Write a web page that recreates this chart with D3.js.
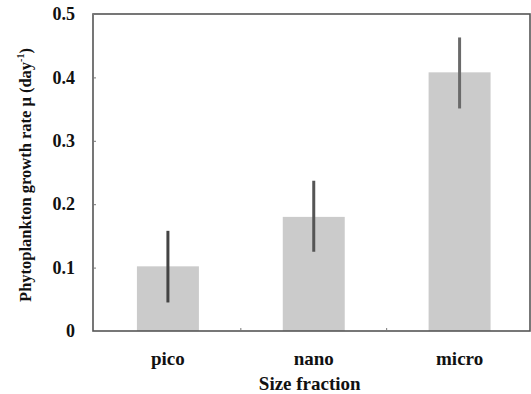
<!DOCTYPE html>
<html>
<head>
<meta charset="utf-8">
<script src="https://cdn.jsdelivr.net/npm/d3@7"></script>
<style>
  body { margin: 0; background: #fff; }
  text { font-family: "Liberation Serif", "Times New Roman", serif; font-weight: bold; fill: #111; }
</style>
</head>
<body>
<svg class="chart" width="531" height="394"></svg>
<script>
const categories = ["pico", "nano", "micro"];
const rates = [0.102, 0.180, 0.408];
const errLow = [0.045, 0.125, 0.351];
const errHigh = [0.158, 0.237, 0.463];
const yTicks = [0, 0.1, 0.2, 0.3, 0.4, 0.5];

const svg = d3.select("svg.chart");

const plotLeft = 93, plotRight = 530, plotTop = 14, plotBottom = 331;

const x = d3.scaleBand()
  .domain(categories)
  .range([95, 532.5])
  .paddingInner(0.575)
  .paddingOuter(0.2875);

const y = d3.scaleLinear()
  .domain([0, 0.5])
  .range([plotBottom, plotTop]);

// bars
svg.selectAll("rect.bar")
  .data(categories)
  .enter()
  .append("rect")
  .attr("class", "bar")
  .attr("x", d => x(d))
  .attr("width", x.bandwidth())
  .attr("y", (d, i) => y(rates[i]))
  .attr("height", (d, i) => y(0) - y(rates[i]))
  .attr("fill", "#cbcbcb");

// error bars
svg.selectAll("line.err")
  .data(categories)
  .enter()
  .append("line")
  .attr("class", "err")
  .attr("x1", d => x(d) + x.bandwidth() / 2)
  .attr("x2", d => x(d) + x.bandwidth() / 2)
  .attr("y1", (d, i) => y(errLow[i]))
  .attr("y2", (d, i) => y(errHigh[i]))
  .attr("stroke", (d, i) => ["#444", "#555", "#6a6a6a"][i])
  .attr("stroke-width", 3);

// frame
svg.append("rect")
  .attr("x", plotLeft)
  .attr("y", plotTop)
  .attr("width", plotRight - plotLeft)
  .attr("height", plotBottom - plotTop)
  .attr("fill", "none")
  .attr("stroke", "#555")
  .attr("stroke-width", 1.6);

// y axis, ticks pointing inward
const yAxis = d3.axisLeft(y)
  .tickValues(yTicks)
  .tickSize(-3)
  .tickPadding(18)
  .tickFormat(d => d === 0 ? "0" : d3.format(".1f")(d));

svg.append("g")
  .attr("transform", `translate(${plotLeft},0)`)
  .call(yAxis)
  .call(g => g.select(".domain").remove())
  .call(g => g.selectAll(".tick line").attr("stroke", "#777"))
  .call(g => g.selectAll(".tick text")
    .attr("font-family", "Liberation Serif")
    .attr("font-weight", "bold")
    .attr("font-size", 18)
    .attr("fill", "#111"));

// x axis, small ticks between categories
const xAxis = d3.axisBottom(x)
  .tickSize(0)
  .tickPadding(21);

svg.append("g")
  .attr("transform", `translate(0,${plotBottom})`)
  .call(xAxis)
  .call(g => g.select(".domain").remove())
  .call(g => g.selectAll(".tick text")
    .attr("font-family", "Liberation Serif")
    .attr("font-weight", "bold")
    .attr("font-size", 19)
    .attr("fill", "#111"));

svg.selectAll("line.sep")
  .data(categories.slice(1))
  .enter()
  .append("line")
  .attr("class", "sep")
  .attr("x1", d => x(d) - x.step() * x.paddingInner() / 2)
  .attr("x2", d => x(d) - x.step() * x.paddingInner() / 2)
  .attr("y1", plotBottom)
  .attr("y2", plotBottom - 3)
  .attr("stroke", "#777");

// axis titles
svg.append("text")
  .attr("x", (x.range()[0] + x.range()[1]) / 2 - 4)
  .attr("y", 390)
  .attr("text-anchor", "middle")
  .attr("font-size", 19)
  .text("Size fraction");

const ylab = svg.append("text")
  .attr("transform", "translate(31,175) rotate(-90)")
  .attr("text-anchor", "middle")
  .attr("font-size", 16.5);
ylab.append("tspan").text("Phytoplankton growth rate μ (day");
ylab.append("tspan").attr("font-size", 10).attr("dy", -7).text("-1");
ylab.append("tspan").attr("dy", 7).text(")");
</script>
</body>
</html>
